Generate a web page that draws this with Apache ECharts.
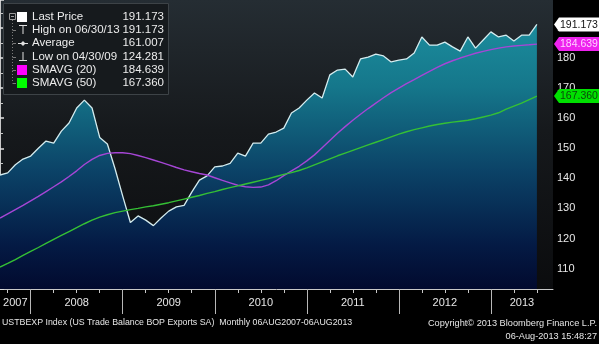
<!DOCTYPE html>
<html><head><meta charset="utf-8">
<script src="https://cdn.jsdelivr.net/npm/echarts@6/dist/echarts.min.js"></script>
<style>html,body{margin:0;padding:0;background:#000;overflow:hidden}#c{width:599px;height:344px;}</style>
</head><body><div id="c"></div>
<script>
// Monthly observations, Aug 2007 .. Jun 2013 (month-end)
const startYear = 2007, startMonth = 8;
const price = [141.1,141.8,144.5,146.4,147.4,150.0,152.4,151.7,155.7,158.4,163.4,166.0,
  163.4,153.6,151.4,143.2,134.1,125.3,127.5,126.1,124.281,126.8,129.1,130.5,131.0,135.4,
  139.4,140.8,143.8,144.1,145.0,148.4,147.4,151.7,151.7,154.7,155.4,156.7,161.7,163.4,
  166.0,168.4,166.7,174.4,176.0,176.3,173.7,179.7,180.3,181.3,180.7,178.7,179.3,179.7,
  181.7,187.0,184.3,184.3,185.3,183.7,182.3,187.0,183.3,186.0,188.7,187.0,187.6,185.7,
  187.6,187.6,191.173];
const sma20 = [126.8,128.2,129.6,131.0,132.5,134.0,135.6,137.2,138.8,140.6,142.5,144.6,
  146.3,147.6,148.3,148.5,148.5,148.2,147.6,146.9,146.1,145.3,144.5,143.6,142.8,142.2,
  141.6,141.1,140.2,139.3,138.5,137.7,137.2,137.0,137.1,137.8,139.2,140.9,142.5,144.0,
  145.8,147.8,150.2,152.6,155.0,157.2,159.3,161.3,163.2,165.0,166.8,168.5,170.0,171.5,
  172.8,174.2,175.6,176.9,178.1,179.1,180.0,180.8,181.6,182.2,182.8,183.3,183.7,184.0,
  184.2,184.4,184.639];
const sma50 = [110.5,111.7,113.0,114.4,115.7,117.0,118.4,119.7,121.0,122.3,123.6,124.9,
  126.1,127.1,127.9,128.6,129.1,129.6,130.0,130.5,130.9,131.4,131.9,132.5,133.1,133.7,
  134.3,135.0,135.6,136.3,136.9,137.5,138.1,138.7,139.3,139.9,140.6,141.3,141.9,142.6,
  143.5,144.5,145.5,146.5,147.5,148.4,149.3,150.2,151.1,152.0,152.9,153.8,154.7,155.5,
  156.2,156.8,157.4,157.9,158.3,158.7,159.0,159.3,159.8,160.4,161.0,161.8,163.0,164.0,
  165.0,166.2,167.36];
const years = ['2007','2008','2009','2010','2011','2012','2013'];
const legendRows = [
  {name:'Last Price', value:'191.173'},
  {name:'High on 06/30/13', value:'191.173'},
  {name:'Average', value:'161.007'},
  {name:'Low on 04/30/09', value:'124.281'},
  {name:'SMAVG (20)', value:'184.639'},
  {name:'SMAVG (50)', value:'167.360'}
];
const footerLeft = 'USTBEXP Index (US Trade Balance BOP Exports SA)  Monthly 06AUG2007-06AUG2013';
const footerRight1 = 'Copyright\u00a9 2013 Bloomberg Finance L.P.';
const footerRight2 = '06-Aug-2013 15:48:27';

// month index helpers
const months = price.map((_, i) => {
  const m = startMonth - 1 + i;
  return {y: startYear + Math.floor(m / 12), m: (m % 12) + 1};
});
const xMax = 72.1;
const quarterTicks = [], yearBounds = [];
months.forEach((d, i) => {
  if (d.m % 3 === 0) quarterTicks.push(i);
  if (d.m === 12) yearBounds.push(i);
});
const yearCenters = years.map(y => {
  const yi = +y;
  const s = yi === startYear ? 0 : months.findIndex(d => d.y === yi - 1 && d.m === 12);
  const eIdx = months.findIndex(d => d.y === yi && d.m === 12);
  const e = eIdx < 0 ? xMax : eIdx;
  return (s + e) / 2;
});

const FONT = '"Liberation Sans", Arial, sans-serif';
const chart = echarts.init(document.getElementById('c'));
const pairs = a => a.map((v, i) => [i, v]);

chart.setOption({
  animation: false,
  backgroundColor: '#000',
  grid: {left: 0, right: 46, top: 0, bottom: 55, show: true, borderWidth: 0,
    backgroundColor: new echarts.graphic.LinearGradient(0, 0, 0, 1, [
      {offset: 0, color: '#252d33'}, {offset: 0.45, color: '#16191c'}, {offset: 1, color: '#0b0c0e'}])},
  xAxis: [
    {type: 'value', min: 0, max: xMax, position: 'bottom',
      axisLine: {lineStyle: {color: '#c8c8c8', width: 1}},
      axisTick: {show: true, customValues: quarterTicks, length: 4, lineStyle: {color: '#c8c8c8'}},
      axisLabel: {show: false}, splitLine: {show: false}},
    {type: 'value', min: 0, max: xMax, position: 'bottom', gridIndex: 0,
      axisLine: {show: false},
      axisTick: {show: true, customValues: yearBounds, length: 25, lineStyle: {color: '#b8b8b8'}},
      axisLabel: {show: true, customValues: yearCenters, showMinLabel: true, showMaxLabel: true,
        formatter: v => { let k = 0, best = 1e9; yearCenters.forEach((c, j) => { if (Math.abs(c - v) < best) { best = Math.abs(c - v); k = j; } }); return years[k]; },
        color: '#e6e6e6', fontSize: 11, fontFamily: FONT, margin: 8},
      splitLine: {show: false}}
  ],
  yAxis: {type: 'value', position: 'right', min: 103.2, max: 199.3,
    minInterval: 10, maxInterval: 10, splitNumber: 10,
    axisLine: {show: true, lineStyle: {color: '#c8c8c8'}},
    axisTick: {show: true, length: 4, lineStyle: {color: '#e0e0e0', width: 1.5}},
    minorTick: {show: true, splitNumber: 2, length: 3, lineStyle: {color: '#c8c8c8'}},
    axisLabel: {color: '#e8e8e8', fontSize: 11, fontFamily: FONT, margin: 4,
      showMinLabel: false, showMaxLabel: false},
    splitLine: {show: false}},
  series: [
    {type: 'line', data: pairs(price), symbol: 'none', z: 2,
      lineStyle: {color: '#d4ecef', width: 1.3},
      areaStyle: {origin: 'start', opacity: 1,
        color: new echarts.graphic.LinearGradient(0, 0, 0, 289, [
          {offset: 0, color: '#1e95a4'}, {offset: 0.3, color: '#15778b'},
          {offset: 0.6, color: '#0b4166'}, {offset: 0.85, color: '#041a44'},
          {offset: 1, color: '#020a2e'}], true)}},
    {type: 'line', data: pairs(sma20), symbol: 'none', z: 3,
      lineStyle: {color: '#a646d6', width: 1.4}},
    {type: 'line', data: pairs(sma50), symbol: 'none', z: 3,
      lineStyle: {color: '#35c035', width: 1.4}}
  ]
});

// graphic overlays
const g = [];
// legend panel
g.push({type: 'rect', shape: {x: 3.5, y: 3.5, width: 165, height: 91},
  style: {fill: '#161a1d', stroke: '#3d4347', lineWidth: 1}, z: 10});
const rowY = [17, 30, 43, 57, 70, 83];
// tree lines
g.push({type: 'rect', shape: {x: 9.5, y: 13.5, width: 6, height: 6}, style: {fill: 'none', stroke: '#9a9a9a', lineWidth: 1}, z: 11});
g.push({type: 'line', shape: {x1: 11, y1: 16.5, x2: 14, y2: 16.5}, style: {stroke: '#9a9a9a', lineWidth: 1}, z: 11});
g.push({type: 'line', shape: {x1: 12.5, y1: 20, x2: 12.5, y2: 83}, style: {stroke: '#7a7a7a', lineWidth: 1, lineDash: [1, 2]}, z: 11});
rowY.slice(1).forEach(y => g.push({type: 'line', shape: {x1: 12.5, y1: y + 0.5, x2: 16, y2: y + 0.5}, style: {stroke: '#7a7a7a', lineWidth: 1}, z: 11}));
// icons
g.push({type: 'rect', shape: {x: 17, y: 12, width: 10, height: 10}, style: {fill: '#ffffff'}, z: 11});
g.push({type: 'line', shape: {x1: 19, y1: 25.5, x2: 27, y2: 25.5}, style: {stroke: '#e0e0e0', lineWidth: 1}, z: 11});
g.push({type: 'line', shape: {x1: 23, y1: 25.5, x2: 23, y2: 34}, style: {stroke: '#e0e0e0', lineWidth: 1}, z: 11});
g.push({type: 'line', shape: {x1: 18, y1: 43.5, x2: 28, y2: 43.5}, style: {stroke: '#e0e0e0', lineWidth: 1}, z: 11});
g.push({type: 'polygon', shape: {points: [[23, 41], [25.5, 43.5], [23, 46], [20.5, 43.5]]}, style: {fill: '#e0e0e0'}, z: 11});
g.push({type: 'line', shape: {x1: 23, y1: 52, x2: 23, y2: 60.5}, style: {stroke: '#e0e0e0', lineWidth: 1}, z: 11});
g.push({type: 'line', shape: {x1: 19, y1: 60.5, x2: 27, y2: 60.5}, style: {stroke: '#e0e0e0', lineWidth: 1}, z: 11});
g.push({type: 'rect', shape: {x: 17, y: 65, width: 10, height: 10}, style: {fill: '#ff00ff'}, z: 11});
g.push({type: 'rect', shape: {x: 17, y: 78, width: 10, height: 10}, style: {fill: '#00ff00'}, z: 11});
legendRows.forEach((r, i) => {
  g.push({type: 'text', z: 12, style: {text: r.name, x: 32, y: rowY[i], fill: '#ececec',
    font: '11.5px ' + FONT, textAlign: 'left', align: 'left', textVerticalAlign: 'middle', verticalAlign: 'middle'}});
  g.push({type: 'text', z: 12, style: {text: r.value, x: 164, y: rowY[i], fill: '#ececec',
    font: '11.5px ' + FONT, textAlign: 'right', align: 'right', textVerticalAlign: 'middle', verticalAlign: 'middle'}});
});
// right-axis value tags
const axX = chart.convertToPixel({xAxisIndex: 0}, xMax);
const tags = [
  {v: price[price.length - 1], label: legendRows[0].value, bg: '#ffffff', fg: '#111111'},
  {v: sma20[sma20.length - 1], label: legendRows[4].value, bg: '#ee22ee', fg: '#ffd0ff'},
  {v: sma50[sma50.length - 1], label: legendRows[5].value, bg: '#00e000', fg: '#0a4a0a'}
];
tags.forEach(t => {
  const y = chart.convertToPixel({yAxisIndex: 0}, t.v);
  g.push({type: 'polygon', z: 20, shape: {points: [[axX + 1, y], [axX + 6, y - 7], [599, y - 7], [599, y + 7], [axX + 6, y + 7]]},
    style: {fill: t.bg}});
  g.push({type: 'text', z: 21, style: {text: t.label, x: axX + 7, y: y + 0.5, fill: t.fg,
    font: '10.5px ' + FONT, textAlign: 'left', align: 'left', textVerticalAlign: 'middle', verticalAlign: 'middle'}});
});
// footer
g.push({type: 'text', z: 12, style: {text: footerLeft, x: 2, y: 323, fill: '#e6e6e6', font: '8.8px ' + FONT,
  textAlign: 'left', align: 'left', textVerticalAlign: 'middle', verticalAlign: 'middle'}});
g.push({type: 'text', z: 12, style: {text: footerRight1, x: 597, y: 323, fill: '#e6e6e6', font: '9.2px ' + FONT,
  textAlign: 'right', align: 'right', textVerticalAlign: 'middle', verticalAlign: 'middle'}});
g.push({type: 'text', z: 12, style: {text: footerRight2, x: 597, y: 336, fill: '#e6e6e6', font: '9.2px ' + FONT,
  textAlign: 'right', align: 'right', textVerticalAlign: 'middle', verticalAlign: 'middle'}});

chart.setOption({graphic: g});
</script></body></html>
